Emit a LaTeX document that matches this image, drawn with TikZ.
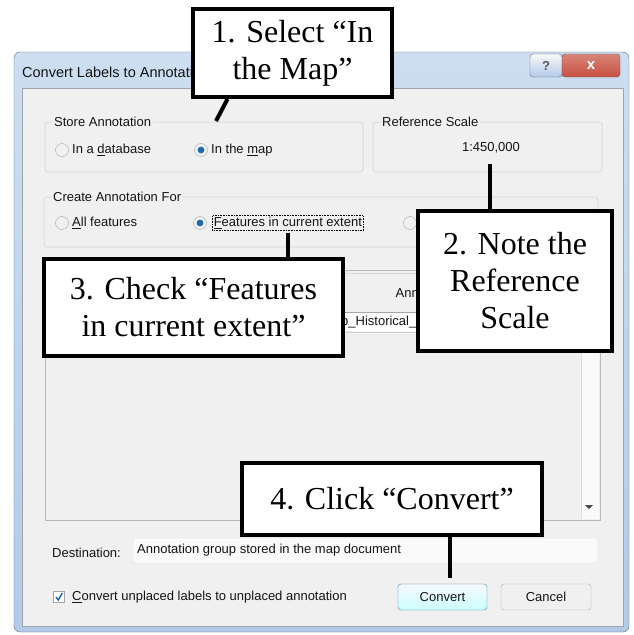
\documentclass[tikz,border=0pt]{standalone}
\usepackage{fontspec}
\setmainfont{Liberation Serif}
\setsansfont{Liberation Sans}
\usepackage{tikz}
\usetikzlibrary{positioning,calc}
\definecolor{DlgFace}{RGB}{240,240,240}
\definecolor{DlgText}{RGB}{20,20,20}
\definecolor{FrameTop}{RGB}{205,222,241}
\definecolor{FrameLow}{RGB}{178,202,232}
\definecolor{FrameEdge}{RGB}{95,105,120}
\definecolor{GroupEdge}{RGB}{213,223,229}
\definecolor{RadioBlue}{RGB}{30,105,175}
\definecolor{CloseRed}{RGB}{199,80,64}
\definecolor{FocusBlue}{RGB}{60,127,177}

\begin{document}
\begin{tikzpicture}[x=1pt, y=-1pt,
    dlg/.style={font=\sffamily\fontsize{13}{15}\selectfont, text=DlgText, inner sep=0pt},
    grp/.style={draw=GroupEdge, rounded corners=3pt, line width=1pt},
    grplbl/.style={dlg, fill=DlgFace, inner xsep=2pt, inner ysep=1pt, anchor=west},
    radio/.style={circle, draw=gray!70, fill=gray!12, minimum size=13pt, inner sep=0pt},
    radioon/.style={radio, path picture={\fill[RadioBlue] (path picture bounding box.center) circle (3.4pt);}},
    btn/.style={dlg, draw=gray!65, fill=gray!12, rounded corners=3pt, minimum width=90pt, minimum height=26pt},
    notebox/.style={draw, line width=4pt, fill=white, align=center, inner sep=0pt,
        font=\fontsize{32}{37}\selectfont},
    lead/.style={line width=4pt},
]
\useasboundingbox (0,0) rectangle (634,635);
\fill[white] (0,0) rectangle (634,635);

% window frame and title bar
\shade[top color=FrameTop, bottom color=FrameLow, draw=FrameEdge, rounded corners=6pt]
    (14,52) rectangle (629,632);
\node[dlg, anchor=west, font=\sffamily\fontsize{14.5}{16}\selectfont] (title) at (22,72) {Convert Labels to Annotation};
\node[draw=FrameEdge, top color=gray!5, bottom color=FrameLow, rounded corners=3pt,
    minimum width=32pt, minimum height=23pt, font=\sffamily\bfseries\fontsize{13}{15}\selectfont,
    text=gray!70!black] (helpbtn) at (546,65.5) {?};
\node[draw=FrameEdge, top color=CloseRed!70, bottom color=CloseRed, rounded corners=3pt,
    minimum width=58pt, minimum height=23pt, font=\sffamily\bfseries\fontsize{15}{15}\selectfont,
    text=white] (closebtn) at (591,65.5) {x};
\fill[DlgFace] (22,88) rectangle (623,626);
\draw[FrameEdge!60] (22,88) rectangle (623,626);

% Store Annotation
\draw[grp] (45,122) rectangle (363,172);
\node[grplbl] (storelbl) at (52,122) {Store Annotation};
\node[radio] (dbradio) at (62,150) {};
\node[dlg, anchor=west] (dbtext) at (72,150) {In a \underline{d}atabase};
\node[radioon] (mapradio) at (201,150) {};
\node[dlg, anchor=west] (maptext) at (211,150) {In the \underline{m}ap};

% Reference Scale
\draw[grp] (373,122) rectangle (602,172);
\node[grplbl] (scalelbl) at (380,122) {Reference Scale};
\node[dlg] (scaleval) at (491,148) {1:450,000};

% Create Annotation For
\draw[grp] (44,197) rectangle (598,247);
\node[grplbl] (createlbl) at (51,197) {Create Annotation For};
\node[radio] (allradio) at (62,223) {};
\node[dlg, anchor=west] (alltext) at (72,223) {\underline{A}ll features};
\node[radioon] (extradio) at (200,223) {};
\node[dlg, anchor=west, draw=black, densely dotted, line width=0.6pt, inner sep=1.5pt]
    (extext) at (212,223) {\underline{F}eatures in current extent};
\node[radio] (selradio) at (410,223) {};

% feature list
\draw[gray!55, fill=DlgFace] (45,270) rectangle (600,520);
\draw[gray!30] (46,273) -- (580,273);
\fill[gray!4] (581,271) rectangle (599,519);
\draw[gray!25] (581,271) -- (581,519);
\fill[gray!60!black] (585,505) -- (593,505) -- (589,509) -- cycle;
\node[dlg, anchor=east] (annhead) at (419,293) {Ann};
\fill[white] (300,313) rectangle (440,331);
\draw[gray!70] (300,312) -- (440,312);
\draw[gray!35] (300,332) -- (440,332);
\node[dlg, anchor=west] (rowtext) at (341,322) {p\_Historical\_};

% destination and buttons
\node[dlg, anchor=west] (destlbl) at (52,553) {Destination:};
\draw[gray!30, fill=gray!4, rounded corners=2pt] (133,538) rectangle (598,563);
\node[dlg, anchor=west] (desttext) at (137,550) {Annotation group stored in the map document};
\node[draw=gray!70, fill=white, minimum size=11pt, inner sep=0pt] (chk) at (59,597) {};
\draw[RadioBlue, line width=1.4pt] ($(chk.center)+(-3,0)$) -- ++(2.3,3) -- ++(4,-7);
\node[dlg, anchor=west] (chktext) at (72,597) {\underline{C}onvert unplaced labels to unplaced annotation};
\node[btn, draw=FocusBlue, top color=blue!3, bottom color=cyan!20, minimum width=89pt] (convbtn) at (442.5,597) {Convert};
\node[btn, minimum width=90pt] (cancelbtn) at (546,597) {Cancel};

% callouts
\node[notebox, minimum width=199pt, minimum height=88pt] (c1) at (292.5,53) {1. Select “In\\the Map”};
\node[notebox, minimum width=194pt, minimum height=140pt] (c2) at (515,281) {2. Note the\\Reference\\Scale};
\node[notebox, minimum width=299pt, minimum height=97pt] (c3) at (193.5,307.5) {3. Check “Features\\in current extent”};
\node[notebox, minimum width=300pt, minimum height=72pt] (c4) at (392,499) {4. Click “Convert”};

\coordinate (maptip) at (216,121);
\coordinate (convtip) at (450,578);
\draw[lead] ([xshift=-65pt]c1.south) -- (maptip);
\draw[lead] (scaleval.south -| 490,0) ++(0,10) coordinate (scaletip) -- (scaletip |- c2.north);
\draw[lead] ([yshift=-2pt]extext.south) -- (extext.south |- c3.north);
\draw[lead] (c4.south -| convtip) -- (convtip);
\end{tikzpicture}
\end{document}
